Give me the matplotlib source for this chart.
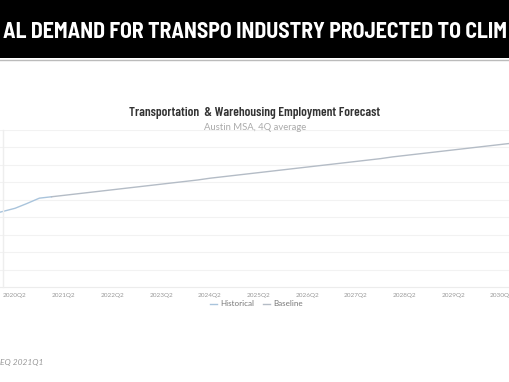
import matplotlib
matplotlib.use('Agg')
import matplotlib.pyplot as plt
from matplotlib.lines import Line2D

# quarters as (year, quarter)
hist_quarters = [(2019, 4), (2020, 1), (2020, 2), (2020, 3), (2020, 4), (2021, 1)]
hist_values = [20.8, 21.7, 22.6, 24.0, 25.5, 25.9]

base_quarters = [(y, q) for y in range(2021, 2031) for q in (1, 2, 3, 4)]
base_values = [25.9, 26.3, 26.7, 27.1,
               27.5, 27.9, 28.3, 28.7,
               29.1, 29.5, 29.9, 30.3,
               30.7, 31.2, 31.6, 32.0,
               32.4, 32.8, 33.2, 33.6,
               34.0, 34.4, 34.8, 35.2,
               35.6, 36.0, 36.4, 36.8,
               37.3, 37.7, 38.1, 38.5,
               38.9, 39.3, 39.7, 40.1,
               40.5, 40.9, 41.3, 41.7]

tick_years = list(range(2020, 2031))
tick_labels = [f'{y}Q2' for y in tick_years]


def qt(yq):
    return yq[0] + (yq[1] - 1) / 4


W, H = 510, 382
cond = ['Barlow Condensed', 'DejaVu Sans']
semi = ['Barlow Semi Condensed', 'Barlow Condensed', 'DejaVu Sans']
sans = ['Lato', 'DejaVu Sans']

fig = plt.figure(figsize=(W / 100, H / 100), dpi=100)
fig.patch.set_facecolor('white')

# black banner on top
fig.patches.append(plt.Rectangle((0, 1 - 58 / H), 1, 58 / H, transform=fig.transFigure,
                                 facecolor='black', edgecolor='none', zorder=0))
fig.add_artist(Line2D([0, 1], [1 - 59.5 / H] * 2, transform=fig.transFigure,
                      color='#bbbbbb', lw=1))
fig.text(0.5, 1 - 38.5 / H, 'AL DEMAND FOR TRANSPO INDUSTRY PROJECTED TO CLIM',
         color='white', fontsize=15.7, fontweight='bold', family=semi,
         ha='center', va='baseline')

# chart title
fig.text(0.5, 1 - 113 / H, 'Transportation  & Warehousing Employment Forecast',
         color='#333333', fontsize=9.5, fontweight='semibold', family=cond,
         ha='center', va='center')
fig.text(0.5, 1 - 127 / H, 'Austin MSA, 4Q average', color='#aaaaaa',
         fontsize=6.8, family=sans, ha='center', va='center')

ax = fig.add_axes([0, 1 - 287.3 / H, 1, (287.3 - 130) / H])
ax.set_xlim(2019.942, 2030.414)
ax.set_ylim(0, 45)
ax.set_facecolor('none')

ax.plot([qt(q) for q in hist_quarters], hist_values, color='#a9c4dc', lw=1)
ax.plot([qt(q) for q in base_quarters], base_values, color='#b4bcc6', lw=1)

ax.set_yticks(range(0, 46, 5))
ax.yaxis.grid(True, color='#f2f2f2', lw=0.8)
ax.set_axisbelow(True)
ax.tick_params(axis='y', left=False, labelleft=False)
ax.set_xticks([y + 0.25 for y in tick_years])
ax.set_xticklabels(tick_labels, family=sans)
ax.tick_params(axis='x', length=0, pad=4, labelsize=4.6, labelcolor='#999999')
for s in ['top', 'right', 'left']:
    ax.spines[s].set_visible(False)
ax.spines['bottom'].set_color('#ececec')
ax.spines['bottom'].set_linewidth(0.8)

fig.add_artist(Line2D([3.5 / W] * 2, [1 - 130 / H, 1 - 287 / H], transform=fig.transFigure,
                      color='#eeeeee', lw=1))

# legend
handles = [Line2D([], [], color='#a9c4dc', lw=1), Line2D([], [], color='#b4bcc6', lw=1)]
fig.legend(handles, ['Historical', 'Baseline'], loc='center', ncol=2,
           bbox_to_anchor=(0.503, 1 - 304 / H), frameon=False,
           prop={'family': sans, 'size': 5.8}, labelcolor='#777777',
           handlelength=0.9, handletextpad=0.4, columnspacing=1.0)

fig.text(0.0, 1 - 362 / H, 'EQ 2021Q1', color='#999999', fontsize=6,
         family=sans, style='italic', ha='left', va='center')

fig.savefig('out.png', dpi=100)
